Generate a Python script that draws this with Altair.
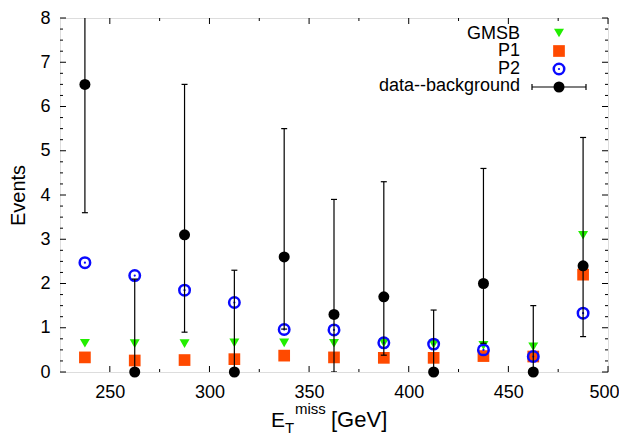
import altair as alt
import pandas as pd

# ---- data ----
x_centers = [237.5, 262.5, 287.5, 312.5, 337.5, 362.5, 387.5, 412.5, 437.5, 462.5, 487.5]
data_bg = [6.5, 0.0, 3.1, 0.0, 2.6, 1.3, 1.7, 0.0, 2.0, 0.0, 2.4]
data_lo = [3.6, 0.0, 0.9, 0.0, 0.97, 0.0, 0.38, 0.0, 0.65, 0.0, 0.8]
data_hi = [9.4, 2.1, 6.5, 2.3, 5.5, 3.9, 4.3, 1.4, 4.6, 1.5, 5.3]
gmsb = [0.65, 0.64, 0.64, 0.66, 0.66, 0.65, 0.66, 0.63, 0.60, 0.57, 3.09]
p1 = [0.33, 0.26, 0.27, 0.29, 0.37, 0.33, 0.32, 0.32, 0.36, 0.35, 2.2]
p2 = [2.47, 2.18, 1.85, 1.57, 0.96, 0.95, 0.66, 0.63, 0.50, 0.35, 1.33]

x_label_ticks = [250, 300, 350, 400, 450, 500]
x_minor_ticks = [275, 325, 375, 425, 475]
y_label_ticks = [0, 1, 2, 3, 4, 5, 6, 7, 8]
y_minor_ticks = [i / 4 for i in range(1, 32) if i % 4 != 0]

legend_labels = ["GMSB", "P1", "P2", "data--background"]
series_colors = {"GMSB": "#22ee00", "P1": "#ff4a00", "P2": "#0a0aff", "data": "#000000"}

W, H = 548, 354
FONT = "Liberation Sans"

df = pd.DataFrame({"x": x_centers, "d": data_bg, "lo": data_lo, "hi": data_hi,
                   "g": gmsb, "p1": p1, "p2": p2})

xs = alt.Scale(domain=[225, 500], nice=False, zero=False)
ys = alt.Scale(domain=[0, 8], nice=False, zero=False)

xax = alt.Axis(values=x_label_ticks, ticks=False, tickSize=0, domain=False, grid=False,
               labelFontSize=18, labelFont=FONT, labelColor="black", labelPadding=11,
               labelFlush=True, labelFlushOffset=11, labelOverlap=False, title=None)
yax = alt.Axis(values=y_label_ticks, ticks=False, tickSize=0, domain=False, grid=False,
               labelFontSize=18, labelFont=FONT, labelColor="black", labelPadding=10,
               labelFlush=False, labelOverlap=False, title="Events",
               titleFont=FONT, titleFontSize=20, titleFontWeight="normal",
               titleColor="black", titlePadding=11)

X = lambda f: alt.X(f, type="quantitative", scale=xs, axis=xax)
Y = lambda f: alt.Y(f, type="quantitative", scale=ys, axis=yax)

base = alt.Chart(df)

gm = base.mark_point(shape="triangle-down", filled=True, size=100, opacity=1,
                     color=series_colors["GMSB"], clip=True).encode(x=X("x"), y=Y("g"))
sq = base.mark_point(shape="square", filled=True, size=137, opacity=1,
                     color=series_colors["P1"], clip=True).encode(x=X("x"), y=Y("p1"))
ci = base.mark_point(shape="circle", filled=False, size=110, strokeWidth=2.5, opacity=1,
                     color=series_colors["P2"], clip=True).encode(x=X("x"), y=Y("p2"))
cd = base.mark_point(shape="circle", filled=True, size=5, opacity=1,
                     color=series_colors["P2"], clip=True).encode(x=X("x"), y=Y("p2"))
eb = base.mark_rule(color="black", strokeWidth=1.2, clip=True).encode(
    x=X("x"), y=Y("lo"), y2="hi")
cap_lo = base.mark_tick(orient="horizontal", color="black", size=6, thickness=1.2,
                        opacity=1, clip=True).encode(x=X("x"), y=Y("lo"))
cap_hi = base.mark_tick(orient="horizontal", color="black", size=6, thickness=1.2,
                        opacity=1, clip=True).encode(x=X("x"), y=Y("hi"))
dots = base.mark_point(shape="circle", filled=True, size=121, opacity=1,
                       color="black", clip=False).encode(x=X("x"), y=Y("d"))

# ---- inward ticks ----
def xt(vals, y0, y1):
    return alt.Chart(pd.DataFrame({"v": vals})).mark_rule(color="black", strokeWidth=1).encode(
        x=X("v"), y=alt.value(y0), y2=alt.value(y1))

def yt(vals, x0, x1):
    return alt.Chart(pd.DataFrame({"v": vals})).mark_rule(color="black", strokeWidth=1).encode(
        y=Y("v"), x=alt.value(x0), x2=alt.value(x1))

ticks = [xt(x_label_ticks, H, H - 6), xt(x_minor_ticks, H, H - 3),
         xt(x_label_ticks, 0, 6), xt(x_minor_ticks, 0, 3),
         yt(y_label_ticks, 0, 6), yt(y_minor_ticks, 0, 3),
         yt(y_label_ticks, W, W - 6), yt(y_minor_ticks, W, W - 3)]

# ---- x axis title (with sub/superscript) ----
def txt(s, x, y, size, align="left"):
    return alt.Chart(pd.DataFrame({"t": [s]})).mark_text(
        font=FONT, fontSize=size, align=align, baseline="alphabetic",
        color="black").encode(text="t:N", x=alt.value(x), y=alt.value(y))

titles = [txt("E", 211, 409, 21), txt("T", 225, 415, 15), txt("miss", 235, 396, 15),
          txt("[GeV]", 271, 409, 22)]

# ---- legend ----
one = pd.DataFrame({"t": [""]})
SX = 499
rows_y = [15, 33, 51, 69]
text_y = [20.5, 38, 55.5, 73]
leg = []
for lab, ty in zip(legend_labels, text_y):
    leg.append(txt(lab, 460, ty, 18, align="right"))
leg.append(alt.Chart(one).mark_point(shape="triangle-down", filled=True, size=100, opacity=1,
                                     color=series_colors["GMSB"]).encode(x=alt.value(SX), y=alt.value(rows_y[0])))
leg.append(alt.Chart(one).mark_point(shape="square", filled=True, size=137, opacity=1,
                                     color=series_colors["P1"]).encode(x=alt.value(SX), y=alt.value(rows_y[1])))
leg.append(alt.Chart(one).mark_point(shape="circle", filled=False, size=110, strokeWidth=2.5, opacity=1,
                                     color=series_colors["P2"]).encode(x=alt.value(SX), y=alt.value(rows_y[2])))
leg.append(alt.Chart(one).mark_point(shape="circle", filled=True, size=5, opacity=1,
                                     color=series_colors["P2"]).encode(x=alt.value(SX), y=alt.value(rows_y[2])))
leg.append(alt.Chart(one).mark_rule(color="black", strokeWidth=1.2).encode(
    x=alt.value(472), x2=alt.value(526), y=alt.value(rows_y[3])))
leg.append(alt.Chart(one).mark_rule(color="black", strokeWidth=1.2).encode(
    x=alt.value(472), y=alt.value(rows_y[3] - 3), y2=alt.value(rows_y[3] + 3)))
leg.append(alt.Chart(one).mark_rule(color="black", strokeWidth=1.2).encode(
    x=alt.value(526), y=alt.value(rows_y[3] - 3), y2=alt.value(rows_y[3] + 3)))
leg.append(alt.Chart(one).mark_point(shape="circle", filled=True, size=121, opacity=1,
                                     color="black").encode(x=alt.value(SX), y=alt.value(rows_y[3])))

chart = alt.layer(gm, sq, ci, cd, eb, cap_lo, cap_hi, dots, *ticks, *titles, *leg).properties(
    width=W, height=H,
    autosize=alt.AutoSizeParams(type="none"),
    padding={"left": 52, "top": 10, "right": 11, "bottom": 64},
).configure_view(stroke="black", strokeWidth=1.6).configure(background="white")

chart.save("out.html", embed_options={"renderer": "svg", "actions": False})
